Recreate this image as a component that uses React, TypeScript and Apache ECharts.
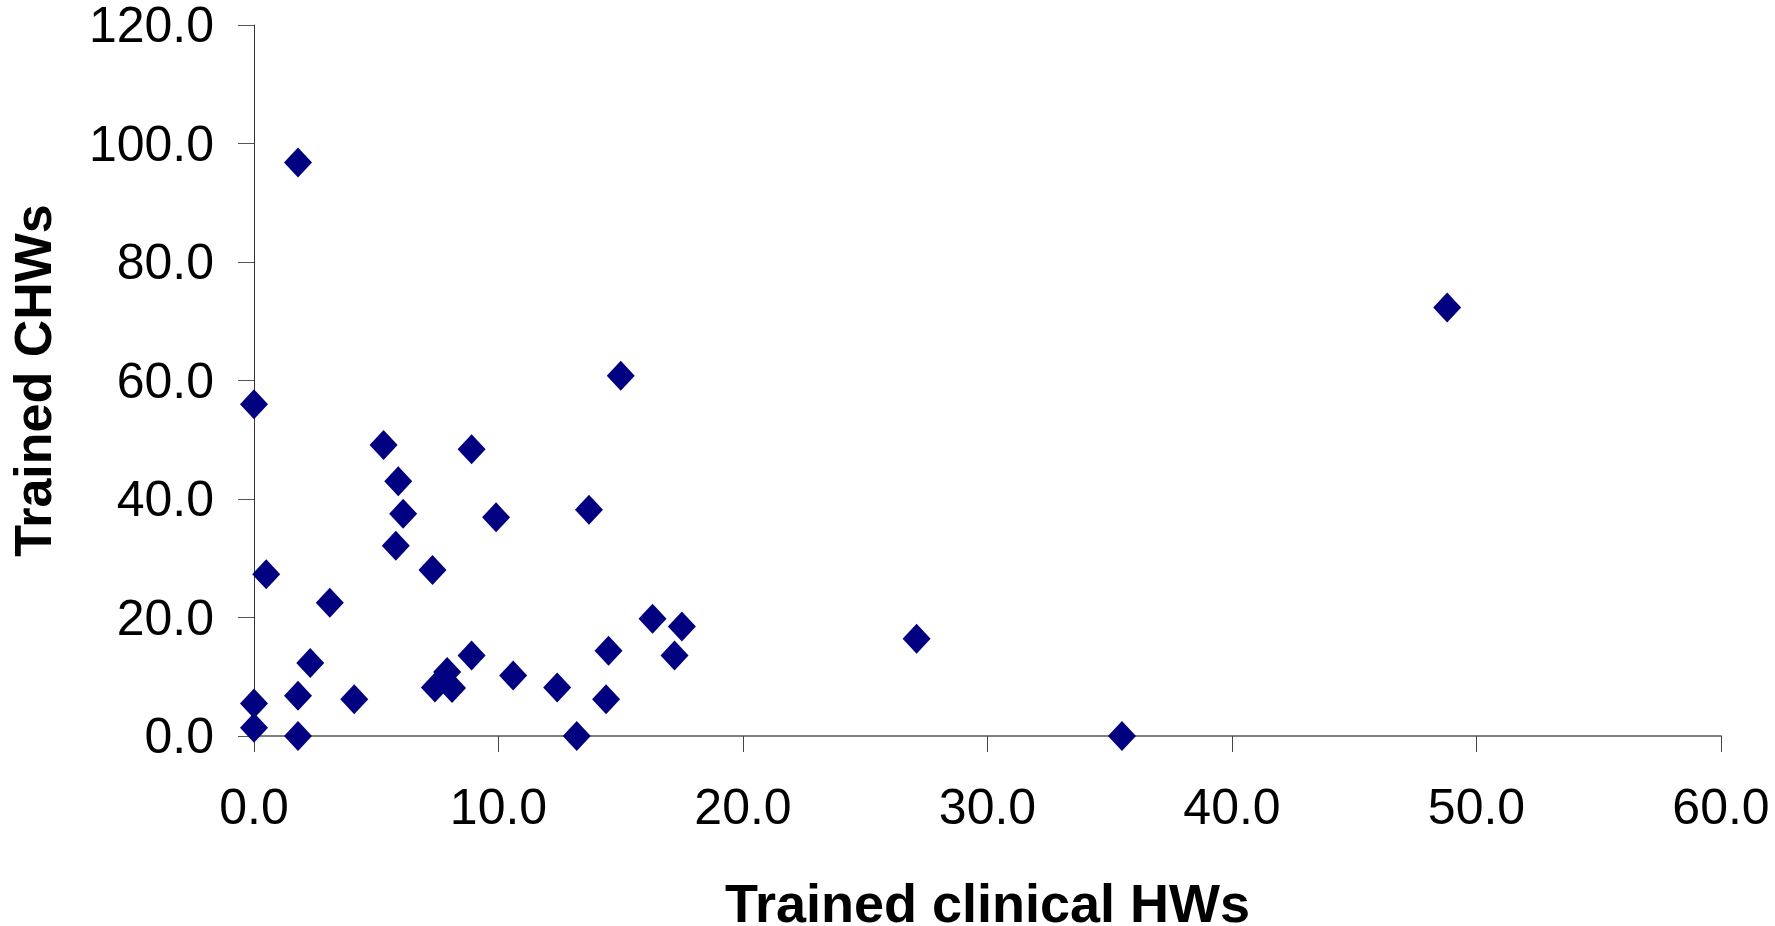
import React, { useEffect, useRef } from "react";
import * as echarts from "echarts";

const xValues: number[] = [
  1.8, 48.8, 15.0, 0.0, 5.3, 8.9, 5.9, 13.7, 6.1, 9.9, 5.8, 7.3, 0.5, 3.1, 16.3, 17.5, 27.1,
  14.5, 8.9, 17.2, 2.3, 7.9, 10.6, 7.4, 8.1, 12.4, 1.8, 4.1, 14.4, 0.0, 0.0, 1.8, 13.2, 35.5,
];
const yValues: number[] = [
  96.8, 72.3, 60.8, 56.0, 49.1, 48.4, 43.0, 38.2, 37.5, 36.9, 32.1, 28.0, 27.3, 22.5, 19.8, 18.5, 16.4,
  14.4, 13.6, 13.6, 12.3, 10.8, 10.2, 8.2, 8.1, 8.2, 6.8, 6.2, 6.2, 5.5, 1.4, 0.0, 0.0, 0.0,
];
const xTitle = "Trained clinical HWs";
const yTitle = "Trained CHWs";

const FONT = "'Liberation Sans', Arial, sans-serif";

export default function App() {
  const ref = useRef<HTMLDivElement>(null);
  useEffect(() => {
    if (!ref.current) return;
    const chart = echarts.init(ref.current, undefined, { renderer: "svg" });
    const data = xValues.map((x, i) => [x, yValues[i]]);
    chart.setOption({
      animation: false,
      backgroundColor: "#ffffff",
      grid: {
        left: 254,
        right: 54,
        top: 25,
        bottom: 190,
        containLabel: false,
        outerBoundsMode: "none",
      },
      xAxis: {
        type: "value",
        min: 0,
        max: 60,
        interval: 10,
        name: xTitle,
        nameLocation: "middle",
        nameGap: 145,
        nameTextStyle: { fontFamily: FONT, fontSize: 54, fontWeight: "bold", color: "#000", lineHeight: 44 },
        axisLine: { show: true, onZero: false, lineStyle: { color: "#808080", width: 2 } },
        axisTick: { show: true, length: 16, lineStyle: { color: "#444", width: 1 } },
        axisLabel: {
          fontFamily: FONT,
          fontSize: 50,
          color: "#000",
          margin: 46,
          formatter: (v: number) => v.toFixed(1),
        },
        splitLine: { show: false },
      },
      yAxis: {
        type: "value",
        min: 0,
        max: 120,
        interval: 20,
        name: yTitle,
        nameLocation: "middle",
        nameGap: 195,
        nameRotate: 90,
        nameTextStyle: { fontFamily: FONT, fontSize: 52, fontWeight: "bold", color: "#000" },
        axisLine: { show: true, onZero: false, lineStyle: { color: "#333", width: 1 } },
        axisTick: { show: true, length: 16, lineStyle: { color: "#555", width: 1 } },
        axisLabel: {
          fontFamily: FONT,
          fontSize: 50,
          lineHeight: 44,
          color: "#000",
          margin: 40,
          formatter: (v: number) => v.toFixed(1),
        },
        splitLine: { show: false },
      },
      series: [
        {
          type: "scatter",
          symbol: "diamond",
          symbolSize: [28, 30],
          itemStyle: { color: "#000080", opacity: 1 },
          data,
        },
      ],
    });
    return () => chart.dispose();
  }, []);
  return (
    <div
      ref={ref}
      style={{ position: "fixed", left: 0, top: 0, width: 1775, height: 926, background: "#fff" }}
    />
  );
}
